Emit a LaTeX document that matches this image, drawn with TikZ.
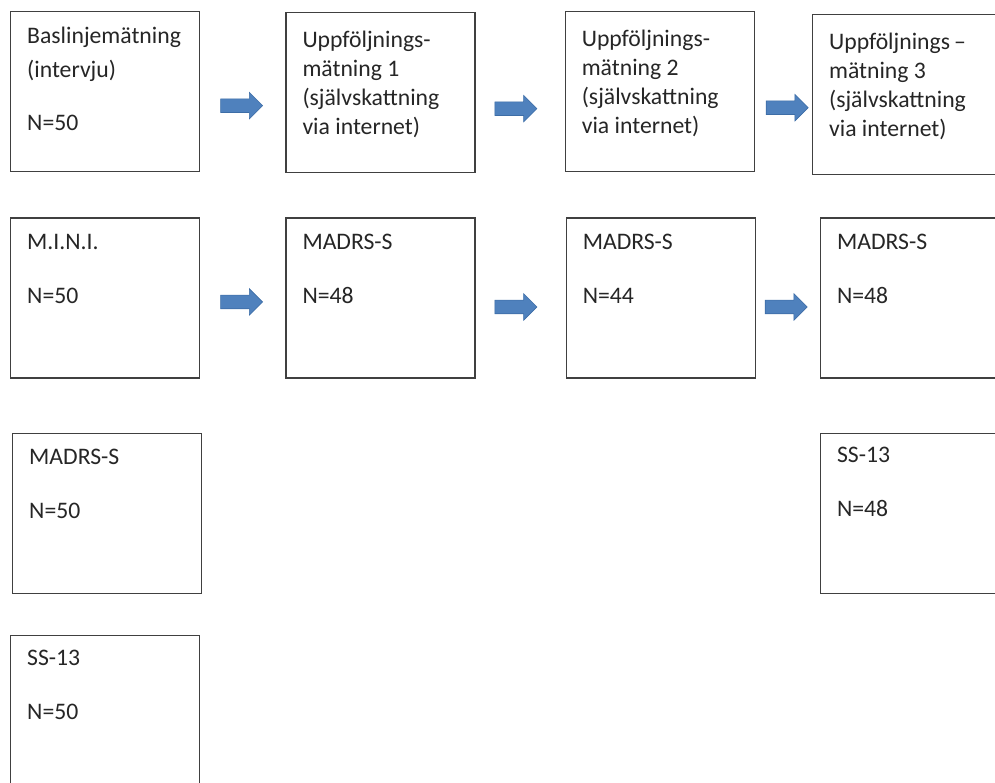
\documentclass[tikz,border=0pt]{standalone}
\usepackage{fontspec}
\setmainfont{Carlito}
\usepackage{xcolor}
\definecolor{arrowblue}{HTML}{4F81BD}
\definecolor{arrowline}{HTML}{3D6DA6}
\definecolor{boxline}{HTML}{404040}
\definecolor{textgray}{HTML}{262626}
\usepackage{tikz}
\usetikzlibrary{positioning,shapes.arrows}
\newcommand{\matbox}[4][12pt]{
\node (#2) [#3]{};
\node (#2Text) [boxtext] at ([xshift=17pt,yshift=-#1]#2.north west) {\rule{0pt}{20pt}#4};}
\tikzstyle{measbox}=[rectangle, draw=boxline, line width=1.3pt, fill=white,
        minimum width=189pt, minimum height=160pt, inner sep=0pt, anchor=north west]
\tikzstyle{boxtext}=[anchor=north west, align=left, inner sep=0pt, text=textgray,
        font=\fontsize{23.7pt}{29pt}\selectfont]
\tikzstyle{nextStep}=[single arrow, draw=arrowline, fill=arrowblue, line width=0.6pt,
        minimum height=42pt, minimum width=26pt, single arrow head extend=6.5pt,
        inner xsep=0pt, inner ysep=6.5pt]

\begin{document}
\begin{tikzpicture}[x=1pt, y=-1pt]
\useasboundingbox (0,0) rectangle (995,782);
\clip (0,0) rectangle (995,782);

% tidpunkter
\matbox{Baslinje}{measbox, at={(10,11)}}{Baslinjemätning\\[5pt](intervju)\\[24pt]N=50}
\matbox[15pt]{Uppf1}{measbox, right=85pt of Baslinje, yshift=-1pt}{Uppföljnings-\\mätning 1\\(självskattning\\via internet)}
\matbox[15pt]{Uppf2}{measbox, right=89pt of Uppf1, yshift=1pt}{Uppföljnings-\\mätning 2\\(självskattning\\via internet)}
\matbox[15pt]{Uppf3}{measbox, right=57pt of Uppf2, yshift=-3pt}{Uppföljnings\,–\\mätning 3\\(självskattning\\via internet)}

% instrument
\matbox{Mini}{measbox, below=45pt of Baslinje}{M.I.N.I.\\[25pt]N=50}
\matbox{MadrsA}{measbox, right=85pt of Mini}{MADRS-S\\[25pt]N=48}
\matbox{MadrsB}{measbox, right=90pt of MadrsA}{MADRS-S\\[25pt]N=44}
\matbox{MadrsC}{measbox, right=64pt of MadrsB}{MADRS-S\\[25pt]N=48}
\matbox{MadrsBas}{measbox, below=54pt of Mini, xshift=2pt}{MADRS-S\\[25pt]N=50}
\matbox[10pt]{SsC}{measbox, below=54pt of MadrsC}{SS-13\\[25pt]N=48}
\matbox[10pt]{SsBas}{measbox, below=41pt of MadrsBas, xshift=-2pt}{SS-13\\[25pt]N=50}

% pilar
\node (PilA) [nextStep, right=20pt of Baslinje, yshift=-14pt]{};
\node (PilB) [nextStep, right=19pt of Uppf1, yshift=-16pt]{};
\node (PilC) [nextStep, right=11pt of Uppf2, yshift=-16pt]{};
\node (PilD) [nextStep, right=20pt of Mini, yshift=-4pt]{};
\node (PilE) [nextStep, right=19pt of MadrsA, yshift=-9pt]{};
\node (PilF) [nextStep, right=9pt of MadrsB, yshift=-9pt]{};

\end{tikzpicture}
\end{document}
